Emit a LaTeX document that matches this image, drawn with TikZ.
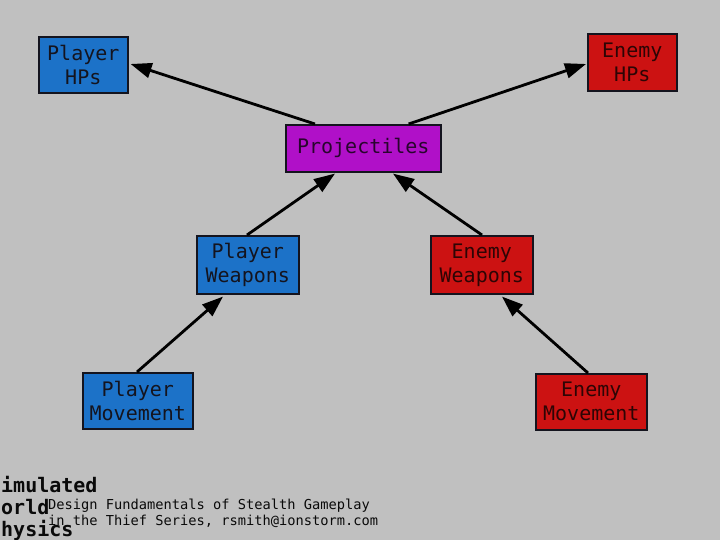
\documentclass[tikz,border=0pt]{standalone}
\usepackage{fontspec}
\setmonofont{DejaVu Sans Mono}
\usetikzlibrary{arrows.meta,calc}
\definecolor{bg}{RGB}{192,192,192}
\definecolor{bluebox}{RGB}{28,114,200}
\definecolor{redbox}{RGB}{204,18,18}
\definecolor{magbox}{RGB}{176,16,200}
\definecolor{inkc}{RGB}{20,20,30}
\definecolor{redink}{RGB}{45,5,5}
\definecolor{magink}{RGB}{40,5,45}
\tikzset{
  box/.style={draw=inkc, line width=1.6pt, inner sep=0pt, align=center,
    font=\fontsize{20}{24}\selectfont\ttfamily, text=inkc, anchor=north west},
  bluenode/.style={box, fill=bluebox},
  rednode/.style={box, fill=redbox, text=redink},
  magnode/.style={box, fill=magbox, text=magink},
  link/.style={line width=2.8pt, draw=black, -{Triangle[length=21pt,width=15pt]}},
  bigtxt/.style={anchor=base west, inner sep=0pt, font=\fontsize{20}{22}\selectfont\ttfamily\bfseries, text={rgb,255:red,10;green,10;blue,10}},
  smalltxt/.style={anchor=base west, inner sep=0pt, font=\fontsize{13.7}{16}\selectfont\ttfamily, text={rgb,255:red,10;green,10;blue,10}},
}
\begin{document}
\begin{tikzpicture}[x=1pt,y=-1pt]
\useasboundingbox (0,0) rectangle (720,540);
\clip (0,0) rectangle (720,540);
\fill[bg] (0,0) rectangle (720,540);

\node[bluenode, minimum width=89pt, minimum height=56pt] (php) at (38,36) {Player\\HPs};
\node[rednode, minimum width=89pt, minimum height=57pt] (ehp) at (587,33) {Enemy\\HPs};
\node[magnode, minimum width=155pt, minimum height=47pt] (proj) at (285,124) {Projectiles};
\node[bluenode, minimum width=102pt, minimum height=58pt] (pw) at (196,235) {Player\\Weapons};
\node[rednode, minimum width=102pt, minimum height=58pt] (ew) at (430,235) {Enemy\\Weapons};
\node[bluenode, minimum width=110pt, minimum height=56pt] (pm) at (82,372) {Player\\Movement};
\node[rednode, minimum width=111pt, minimum height=56pt] (em) at (535,373) {Enemy\\Movement};

\draw[link] ($(proj.north west)+(30,0)$) -- ($(php.north east)+(2,28)$);
\draw[link] ($(proj.north east)+(-33,0)$) -- ($(ehp.north west)+(-1,31)$);
\draw[link] ($(pw.north west)+(51,0)$) -- ($(proj.south west)+(50,1)$);
\draw[link] ($(ew.north west)+(52,0)$) -- ($(proj.south west)+(108,1)$);
\draw[link] ($(pm.north west)+(55,0)$) -- ($(pw.south west)+(27,2)$);
\draw[link] ($(em.north west)+(53,0)$) -- ($(ew.south west)+(72,2)$);

\node[bigtxt] (t1) at (1,492) {imulated};
\node[bigtxt] (t2) at (1,514) {orld};
\node[bigtxt] (t3) at (1,536) {hysics};
\node[smalltxt] (s1) at (48,509) {Design Fundamentals of Stealth Gameplay};
\node[smalltxt] (s2) at (48,525) {in the Thief Series, rsmith@ionstorm.com};
\end{tikzpicture}
\end{document}
